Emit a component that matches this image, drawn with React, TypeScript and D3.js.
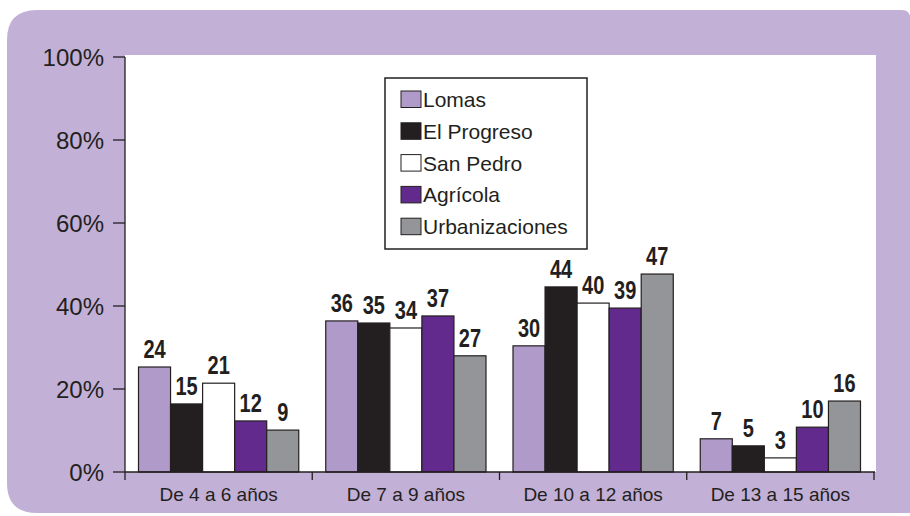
import React from "react";
import * as d3 from "d3";

const categories = ["De 4 a 6 años", "De 7 a 9 años", "De 10 a 12 años", "De 13 a 15 años"];
const seriesNames = ["Lomas", "El Progreso", "San Pedro", "Agrícola", "Urbanizaciones"];
const seriesColors = ["#b09aca", "#231f20", "#ffffff", "#632a8e", "#939598"];
// bar heights (percent)
const lomas = [25.3, 36.4, 30.4, 8.0];
const elProgreso = [16.4, 35.9, 44.6, 6.3];
const sanPedro = [21.4, 34.7, 40.7, 3.4];
const agricola = [12.3, 37.6, 39.5, 10.8];
const urbanizaciones = [10.1, 28.0, 47.7, 17.1];
// printed data labels
const lomasLabels = ["24", "36", "30", "7"];
const elProgresoLabels = ["15", "35", "44", "5"];
const sanPedroLabels = ["21", "34", "40", "3"];
const agricolaLabels = ["12", "37", "39", "10"];
const urbanizacionesLabels = ["9", "27", "47", "16"];
const yTicks = [0, 20, 40, 60, 80, 100];

const seriesValues = [lomas, elProgreso, sanPedro, agricola, urbanizaciones];
const seriesLabels = [lomasLabels, elProgresoLabels, sanPedroLabels, agricolaLabels, urbanizacionesLabels];

export default function App() {
  const W = 910, H = 516;
  const left = 125, right = 875, top = 57, bottom = 472;
  const ink = "#231f20";
  const x0 = d3.scaleBand<string>().domain(categories).range([left, right - 1]).paddingInner(0).paddingOuter(0);
  const bw = x0.bandwidth();
  const x1 = d3.scaleBand<string>().domain(seriesNames).range([13.5, bw - 13.5]).padding(0);
  const y = d3.scaleLinear().domain([0, 100]).range([bottom, top]);
  const boundaries = [...categories.map((c) => x0(c) as number), (x0(categories[categories.length - 1]) as number) + bw];

  const bgPath = `M7,40 Q7,10 37,10 H902 Q910,10 910,18 V513 H37 Q7,513 7,483 Z`;

  return (
    <div style={{ position: "absolute", left: 0, top: 0 }}>
      <svg width={W} height={H} style={{ display: "block" }}>
        <rect x={0} y={0} width={W} height={H} fill="#ffffff" />
        <path d={bgPath} fill="#c2b0d6" />
        <rect x={left} y={55} width={right + 1 - left} height={bottom - 55} fill="#ffffff" />

        {seriesNames.map((s, si) =>
          categories.map((c, ci) => {
            const v = seriesValues[si][ci];
            const bx = (x0(c) as number) + (x1(s) as number);
            return (
              <rect
                key={s + c}
                x={bx}
                y={y(v)}
                width={x1.bandwidth()}
                height={bottom - y(v)}
                fill={seriesColors[si]}
                stroke={ink}
                strokeWidth={1.2}
              />
            );
          })
        )}

        {seriesNames.map((s, si) =>
          categories.map((c, ci) => {
            const v = seriesValues[si][ci];
            const cx = (x0(c) as number) + (x1(s) as number) + x1.bandwidth() / 2;
            return (
              <g key={"l" + s + c} transform={`translate(${cx},${y(v) - 9}) scale(0.8,1)`}>
                <text
                  x={0}
                  y={0}
                  textAnchor="middle"
                  fontFamily="'Liberation Sans', Arial, sans-serif"
                  fontWeight="bold"
                  fontSize={25}
                  fill={ink}
                >
                  {seriesLabels[si][ci]}
                </text>
              </g>
            );
          })
        )}

        {/* y axis */}
        <line x1={left} x2={left} y1={top} y2={bottom} stroke={ink} strokeWidth={1.3} />
        {yTicks.map((t) => (
          <g key={t}>
            <line x1={left - 12} x2={left} y1={y(t)} y2={y(t)} stroke={ink} strokeWidth={1.3} />
            <text
              x={left - 21}
              y={y(t) + 8.5}
              textAnchor="end"
              fontFamily="'Liberation Sans', Arial, sans-serif"
              fontSize={24}
              fill={ink}
            >
              {t}%
            </text>
          </g>
        ))}

        {/* x axis */}
        <line x1={left} x2={right} y1={bottom} y2={bottom} stroke={ink} strokeWidth={1.5} />
        {boundaries.map((b, i) => (
          <line key={i} x1={b} x2={b} y1={bottom} y2={bottom + 8} stroke={ink} strokeWidth={1.3} />
        ))}
        {categories.map((c) => (
          <text
            key={c}
            x={(x0(c) as number) + bw / 2}
            y={501}
            textAnchor="middle"
            fontFamily="'Liberation Sans', Arial, sans-serif"
            fontSize={19}
            fill={ink}
          >
            {c}
          </text>
        ))}

        {/* legend */}
        <rect x={385} y={78} width={202} height={171} fill="#ffffff" stroke={ink} strokeWidth={1.5} />
        {seriesNames.map((s, i) => {
          const cy = 99 + i * 31.8;
          return (
            <g key={"lg" + s}>
              <rect x={401} y={cy - 8} width={20} height={16.5} fill={seriesColors[i]} stroke={ink} strokeWidth={1} />
              <text
                x={423}
                y={cy + 8}
                fontFamily="'Liberation Sans', Arial, sans-serif"
                fontSize={21}
                fill={ink}
              >
                {s}
              </text>
            </g>
          );
        })}
      </svg>
    </div>
  );
}
